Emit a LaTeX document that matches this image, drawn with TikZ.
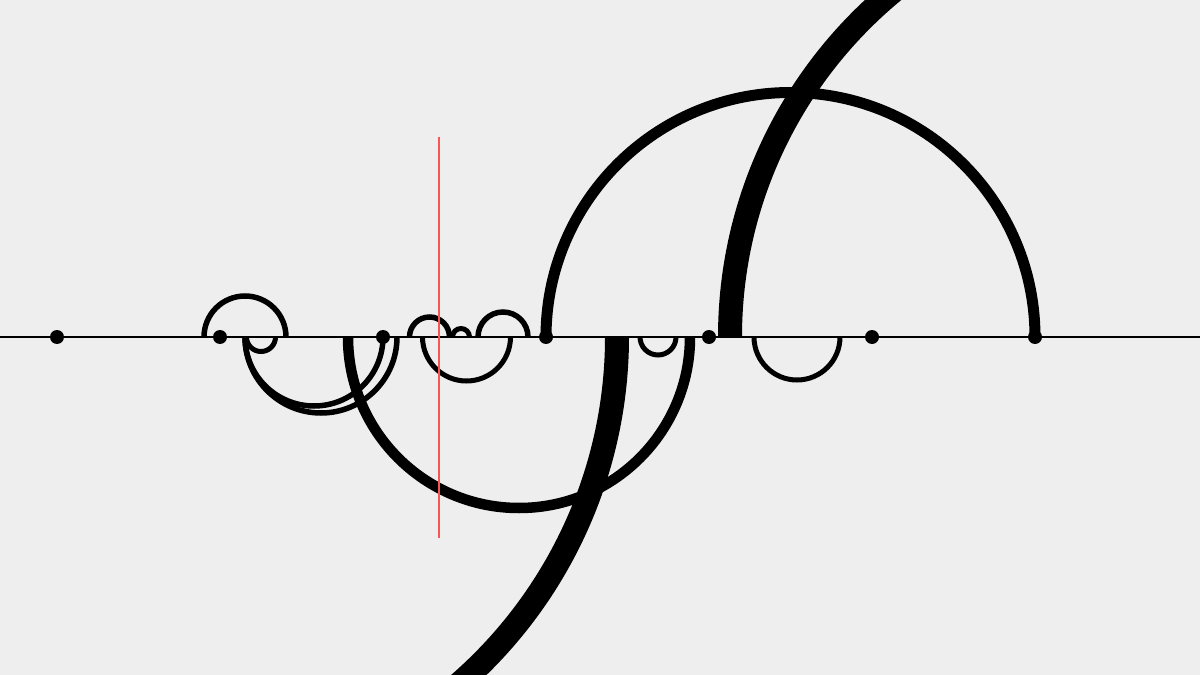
\documentclass[tikz,border=0pt]{standalone}
\usetikzlibrary{calc}
\definecolor{bg}{HTML}{EEEEEE}
\definecolor{redline}{RGB}{250,85,85}
\tikzset{
  dotnode/.style={circle,fill=black,inner sep=0pt,minimum size=14pt},
  thinarc/.style={draw=black,line width=5.5pt},
  midarc/.style={draw=black,line width=10.5pt},
  thickarc/.style={draw=black,line width=24pt},
}
\begin{document}
\begin{tikzpicture}[x=1pt,y=1pt]
\fill[bg] (0,-338) rectangle (1200,337);
\useasboundingbox (0,-338) rectangle (1200,337);
\begin{scope}
\clip (0,-338) rectangle (1200,337);
% axis
\coordinate (L) at (0,0);
\coordinate (R) at (1200,0);
\draw[line width=1.5pt] (L) -- (R);
% upper arcs
\draw[thinarc] (286,0) arc (0:180:41);
\draw[thinarc] (449.5,0) arc (0:180:20);
\draw[thinarc,line width=5pt] (469.5,0) arc (0:180:8.5);
\draw[thinarc] (528,0) arc (0:180:25);
\draw[midarc,line width=11pt] (1035,0) arc (0:180:244.5);
\draw[thickarc] (730,0) arc (180:100:448);
% lower arcs
\draw[thinarc,line width=5pt] (275.5,0) arc (0:-180:14.5);
\draw[thinarc] (383,0) arc (0:-180:69);
\draw[thinarc] (397,0) arc (0:-180:76);
\draw[thinarc,line width=5pt] (510.5,0) arc (0:-180:44);
\draw[midarc] (690,0) arc (0:-180:171);
\draw[thinarc,line width=5pt] (676,0) arc (0:-180:18);
\draw[thinarc,line width=5pt] (840,0) arc (0:-180:43);
\draw[thickarc] (617,0) arc (0:-60:460);
\end{scope}
% dots
\foreach \i/\x in {1/57,2/220,3/383,4/546,5/709,6/872,7/1035}
  \node[dotnode] (d\i) at (\x,0) {};
% red marker
\coordinate (rt) at (438.5,200);
\coordinate (rb) at (438.5,-201);
\draw[redline,line width=2pt] (rt) -- (rb);
\end{tikzpicture}
\end{document}
